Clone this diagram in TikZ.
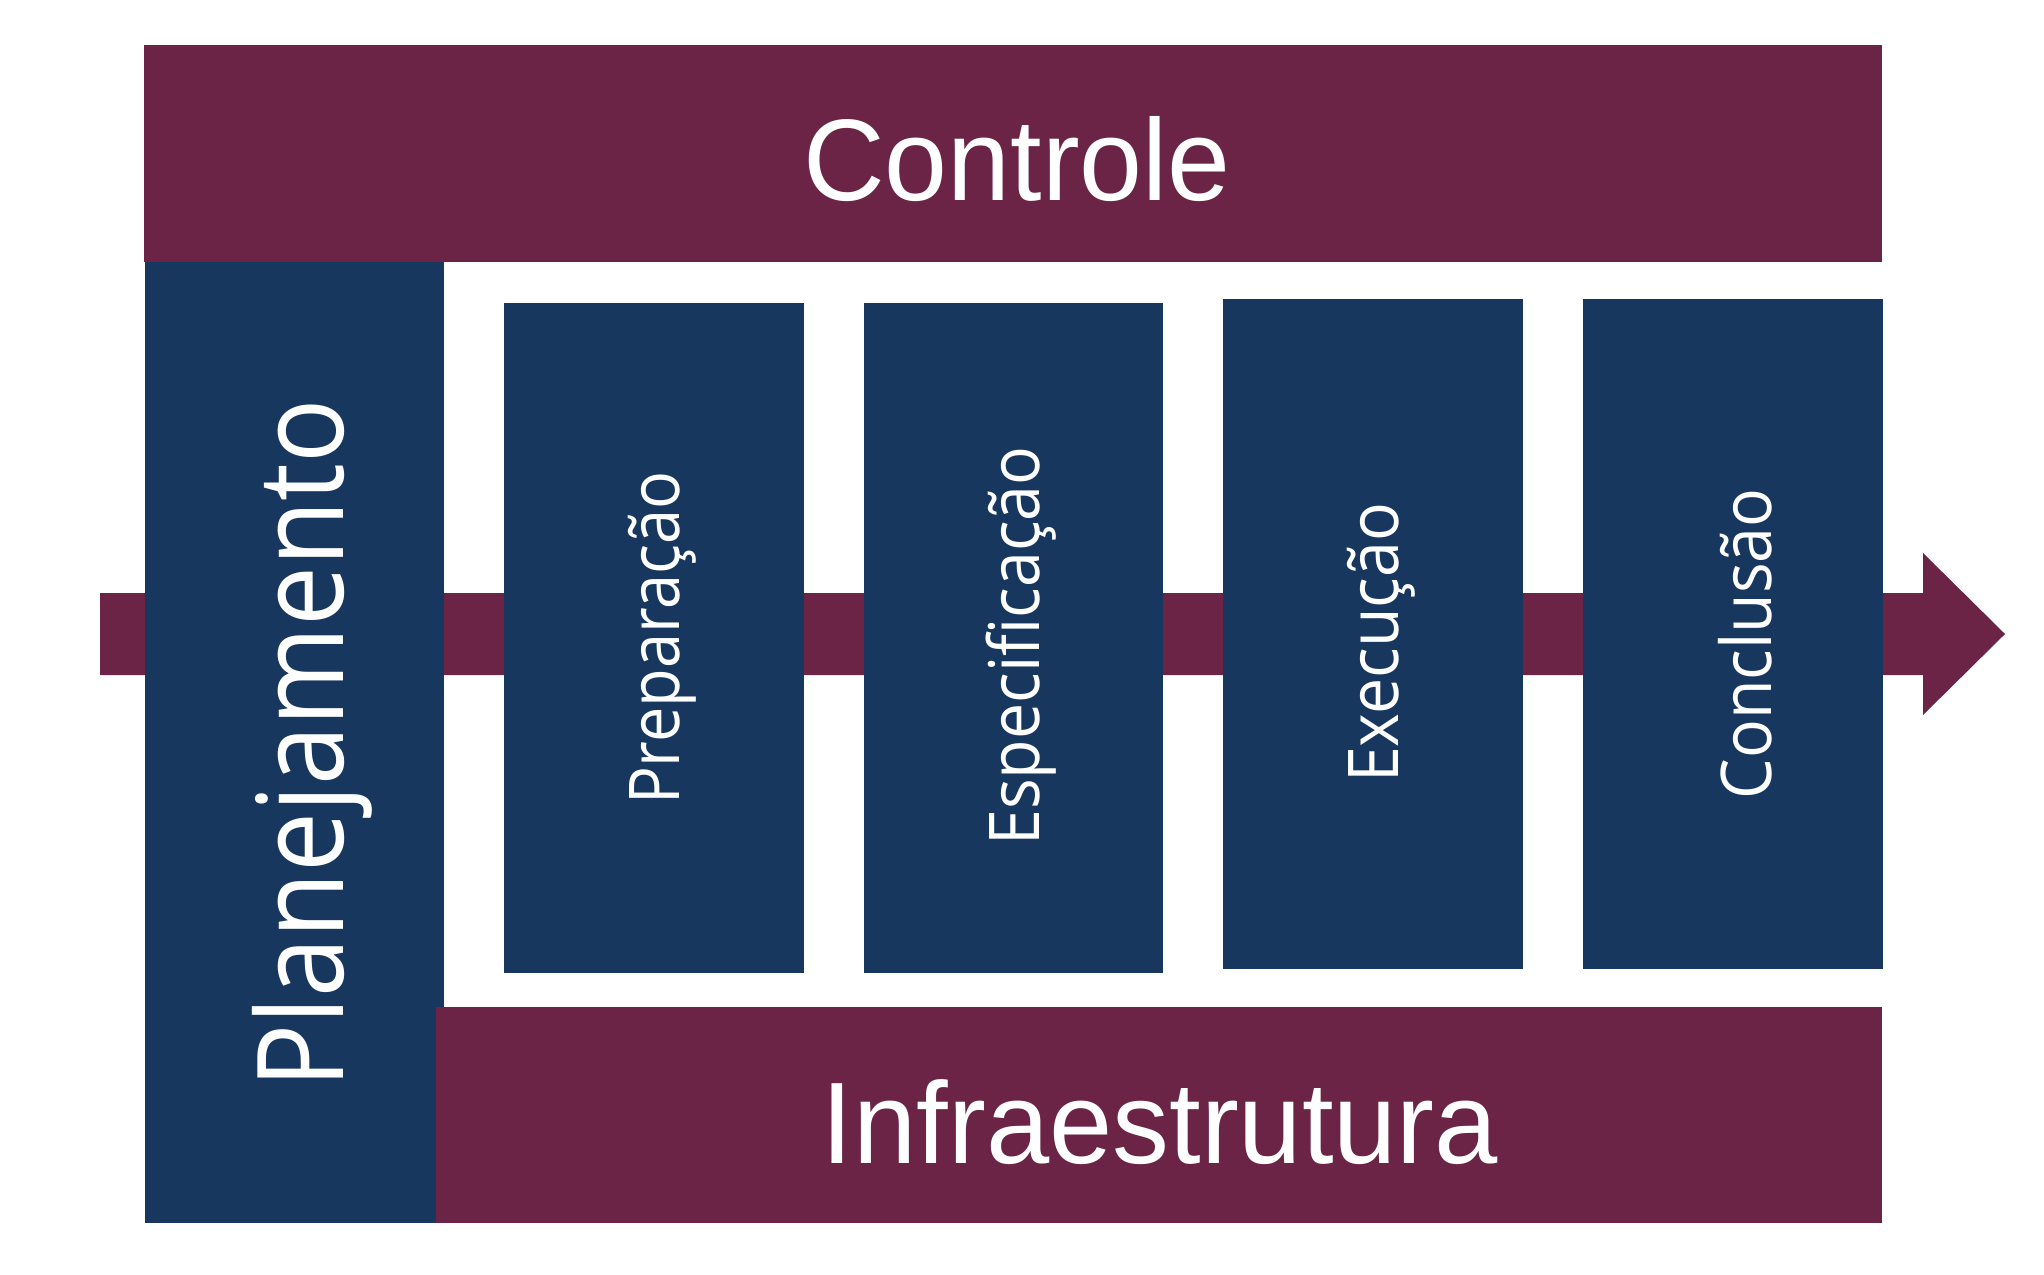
\documentclass[tikz,border=0pt]{standalone}
\usepackage{fontspec}
\newfontfamily\hfont{Liberation Sans}
\newfontfamily\vfont{Open Sans}
\definecolor{maroon}{RGB}{107,36,70}
\definecolor{navy}{RGB}{23,55,95}
\tikzset{
  band/.style={fill=maroon},
  block/.style={fill=navy},
  bigtxt/.style={text=white, inner sep=0pt, font=\hfont\fontsize{58pt}{60pt}\selectfont},
  sidetxt/.style={text=white, inner sep=0pt, rotate=90, anchor=base, font=\vfont\fontsize{60pt}{62pt}\selectfont},
  steptxt/.style={text=white, inner sep=0pt, rotate=90, anchor=base, font=\vfont\fontsize{35pt}{37pt}\selectfont}
}
\begin{document}
\begin{tikzpicture}[x=0.5pt,y=-0.5pt]
\useasboundingbox (0,0) rectangle (2044,1274);
% flow arrow
\fill[band] (100,593) -- (1923,593) -- (1923,553) -- (2005,634) -- (1923,715) -- (1923,675) -- (100,675) -- cycle;
% bands and blocks
\fill[band] (144,45) rectangle (1882,262);
\fill[block] (145,262) rectangle (444,1223);
\fill[block] (504,303) rectangle (804,973);
\fill[block] (864,303) rectangle (1163,973);
\fill[block] (1223,299) rectangle (1523,969);
\fill[block] (1583,299) rectangle (1883,969);
\fill[band] (436,1007) rectangle (1882,1223);
% texts
\node[bigtxt] (ctrl) at (1017,159) {\scalebox{0.975}[1]{Controle}};
\node[bigtxt] (infra) at (1160,1122) {\scalebox{0.98}[1]{Infraestrutura}};
\node[sidetxt] (plan) at (343,744) {\scalebox{0.89}[1]{Planejamento}};
\node[steptxt] (prep) at (679,638) {\scalebox{0.9}[1]{Preparação}};
\node[steptxt] (espec) at (1039,646) {\scalebox{0.92}[1]{Especificação}};
\node[steptxt] (exec) at (1398,643) {\scalebox{0.92}[1]{Execução}};
\node[steptxt] (concl) at (1771,644) {\scalebox{0.92}[1]{Conclusão}};
\end{tikzpicture}
\end{document}
